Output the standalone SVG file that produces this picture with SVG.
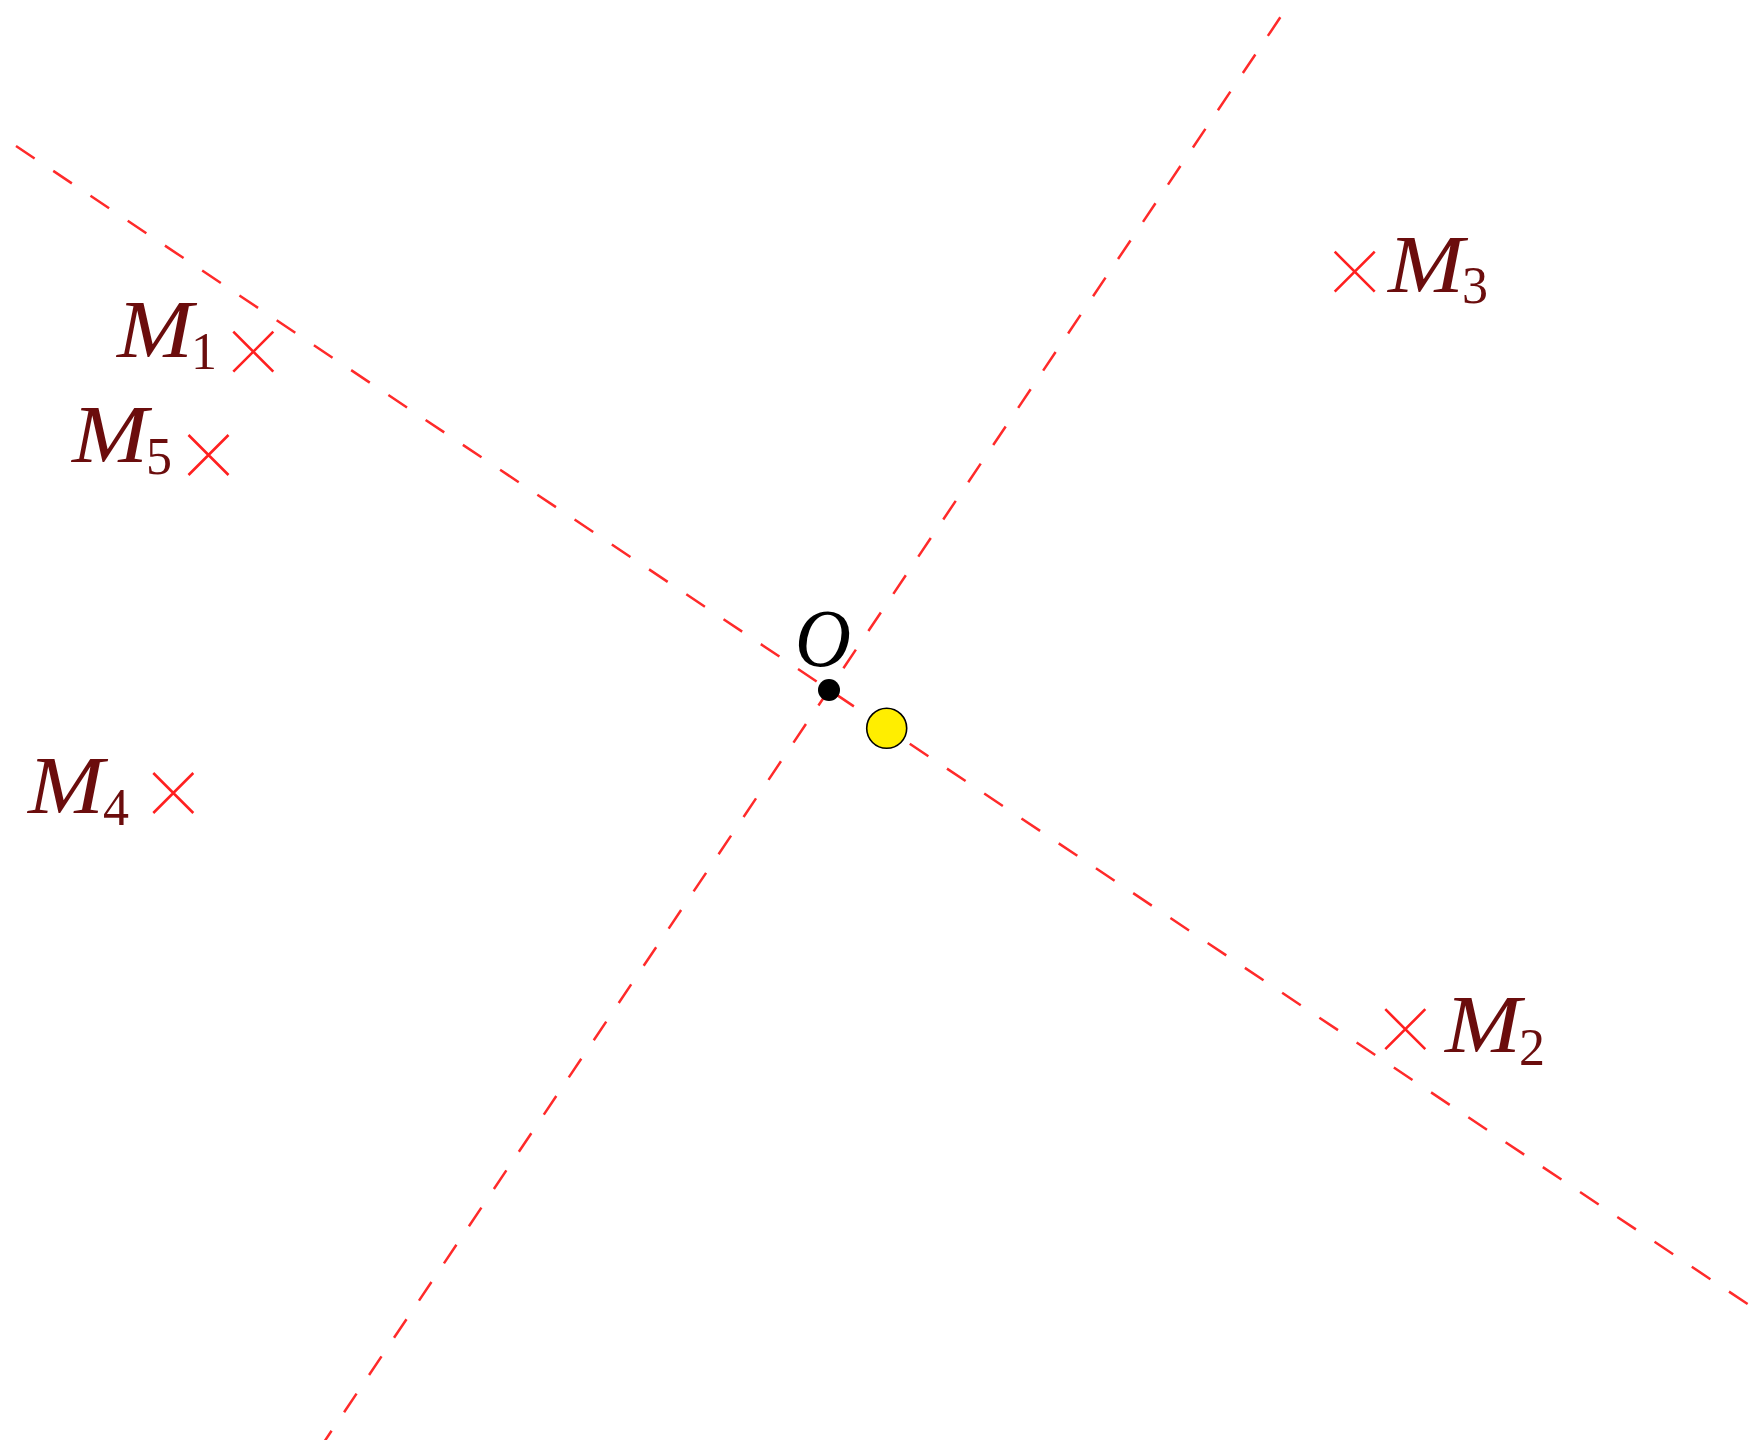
<svg xmlns="http://www.w3.org/2000/svg" width="1758" height="1440" viewBox="0 0 1758 1440">
<style>
.axis{stroke:#ff2a2a;stroke-width:2.5;fill:none;stroke-dasharray:22.4 22.4}
.cross{stroke:#ff2020;stroke-width:2.6;fill:none}
.lbl{font-family:"Liberation Serif",serif;font-style:italic;font-size:82px;fill:#6b0d0d}
.sub{font-family:"Liberation Serif",serif;font-size:52px;fill:#6b0d0d}
</style>
<defs>
<path id="x" class="cross" d="M-20,-20 L20,20 M-20,20 L20,-20"/>
</defs>
<rect width="1758" height="1440" fill="#fff"/>
<g id="connectors">
<path class="axis" d="M16,146 L1752,1307"/>
<path class="axis" d="M1306.4,-21.6 L312,1460" stroke-dashoffset="-2"/>
</g>
<g id="O">
<circle cx="829" cy="690" r="11" fill="#000"/>
<text x="795" y="666" font-family="Liberation Serif,serif" font-style="italic" font-size="82" fill="#000" textLength="56" lengthAdjust="spacingAndGlyphs">O</text>
</g>
<g id="yellow">
<circle cx="886.7" cy="728.3" r="20" fill="#ffee00" stroke="#000" stroke-width="1.6"/>
</g>
<g id="M1">
<use href="#x" x="253.3" y="351.7"/>
<text class="lbl" x="117" y="357" textLength="76" lengthAdjust="spacingAndGlyphs">M</text>
<text class="sub" x="191" y="369">1</text>
</g>
<g id="M5">
<use href="#x" x="208.5" y="455"/>
<text class="lbl" x="72" y="462" textLength="76" lengthAdjust="spacingAndGlyphs">M</text>
<text class="sub" x="146" y="474">5</text>
</g>
<g id="M4">
<use href="#x" x="173.3" y="793"/>
<text class="lbl" x="28" y="813" textLength="76" lengthAdjust="spacingAndGlyphs">M</text>
<text class="sub" x="103" y="825">4</text>
</g>
<g id="M3">
<use href="#x" x="1354.7" y="271.7"/>
<text class="lbl" x="1388" y="292" textLength="76" lengthAdjust="spacingAndGlyphs">M</text>
<text class="sub" x="1462" y="303">3</text>
</g>
<g id="M2">
<use href="#x" x="1405.3" y="1029.2"/>
<text class="lbl" x="1445" y="1052" textLength="76" lengthAdjust="spacingAndGlyphs">M</text>
<text class="sub" x="1519" y="1065">2</text>
</g>
</svg>
